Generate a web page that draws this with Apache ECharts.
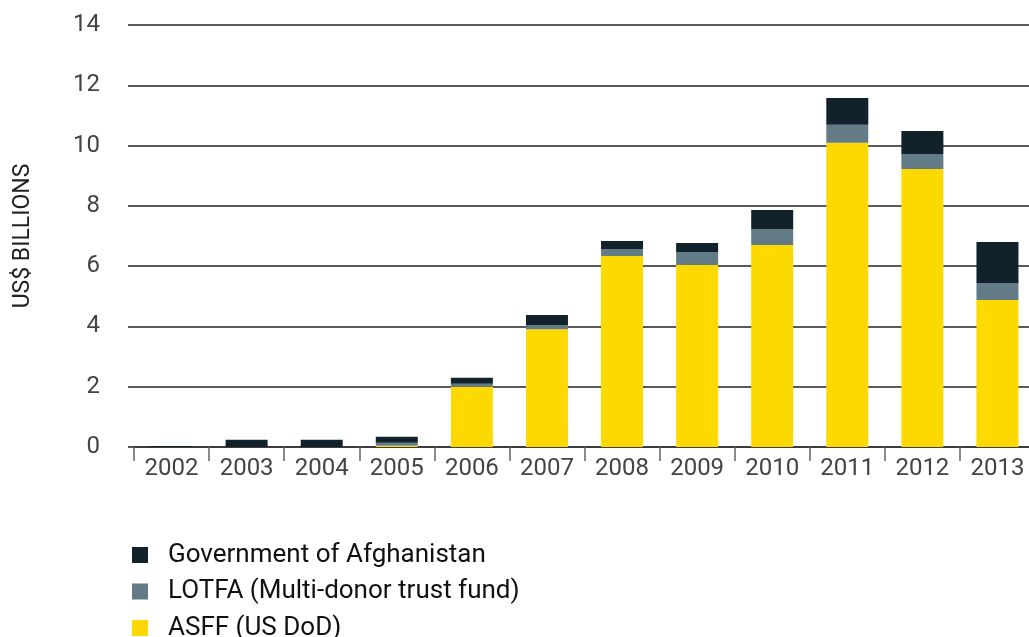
<!DOCTYPE html>
<html>
<head>
<meta charset="utf-8">
<script src="https://cdn.jsdelivr.net/npm/echarts@6/dist/echarts.min.js"></script>
<style>
  html, body { margin: 0; padding: 0; background: #fff; }
  #chart { width: 1029px; height: 637px; }
</style>
</head>
<body>
<div id="chart"></div>
<script>
// Afghan security forces funding by source, US$ billions
const years = ['2002', '2003', '2004', '2005', '2006', '2007', '2008', '2009', '2010', '2011', '2012', '2013'];
const asff  = [0, 0, 0, 0.04, 2.0, 3.91, 6.34, 6.04, 6.70, 10.09, 9.22, 4.88];
const lotfa = [0, 0, 0, 0.10, 0.10, 0.14, 0.23, 0.43, 0.53, 0.60, 0.50, 0.56];
const gov   = [0.03, 0.24, 0.24, 0.20, 0.20, 0.33, 0.26, 0.30, 0.63, 0.89, 0.76, 1.36];
const yTicks = { min: 0, max: 14, interval: 2 };

const names = {
  gov: 'Government of Afghanistan',
  lotfa: 'LOTFA (Multi-donor trust fund)',
  asff: 'ASFF (US DoD)'
};
const colors = { gov: '#11222b', lotfa: '#637b87', asff: '#fcd900' };
const font = 'Roboto, "DejaVu Sans", sans-serif';

const chart = echarts.init(document.getElementById('chart'), null, { renderer: 'canvas' });

chart.setOption({
  animation: false,
  backgroundColor: '#ffffff',
  grid: { left: 134, top: 25, width: 901, bottom: 190, containLabel: false, outerBoundsMode: 'none' },
  legend: {
    orient: 'vertical',
    left: 127,
    top: 537,
    height: 110,
    icon: 'rect',
    itemWidth: 16,
    itemHeight: 16,
    itemGap: 10.5,
    data: [names.gov, names.lotfa, names.asff],
    textStyle: {
      fontFamily: font,
      fontSize: 26,
      lineHeight: 25,
      color: '#111',
      padding: [0, 0, 0, 15]
    }
  },
  xAxis: {
    type: 'category',
    data: years,
    axisLine: { show: true, lineStyle: { color: '#333', width: 1.5 } },
    axisTick: { show: true, length: 14, alignWithLabel: false, lineStyle: { color: '#666', width: 1.5 } },
    axisLabel: { fontFamily: font, fontSize: 24, color: '#444', margin: 10 }
  },
  yAxis: {
    type: 'value',
    min: yTicks.min,
    max: yTicks.max,
    interval: yTicks.interval,
    name: 'US$ BILLIONS',
    nameLocation: 'middle',
    nameGap: 99,
    nameTextStyle: { fontFamily: font, fontSize: 23, color: '#222' },
    axisLine: { show: false },
    axisTick: { show: true, length: 6, lineStyle: { color: '#222', width: 1.5 } },
    splitLine: { show: true, lineStyle: { color: '#222', width: 1.5 } },
    axisLabel: { fontFamily: font, fontSize: 24, color: '#444', margin: 34, padding: [5, 0, 0, 0] }
  },
  series: [
    { name: names.asff, type: 'bar', stack: 'total', data: asff, barWidth: 42, itemStyle: { color: colors.asff } },
    { name: names.lotfa, type: 'bar', stack: 'total', data: lotfa, barWidth: 42, itemStyle: { color: colors.lotfa } },
    { name: names.gov, type: 'bar', stack: 'total', data: gov, barWidth: 42, itemStyle: { color: colors.gov } }
  ]
});
</script>
</body>
</html>
